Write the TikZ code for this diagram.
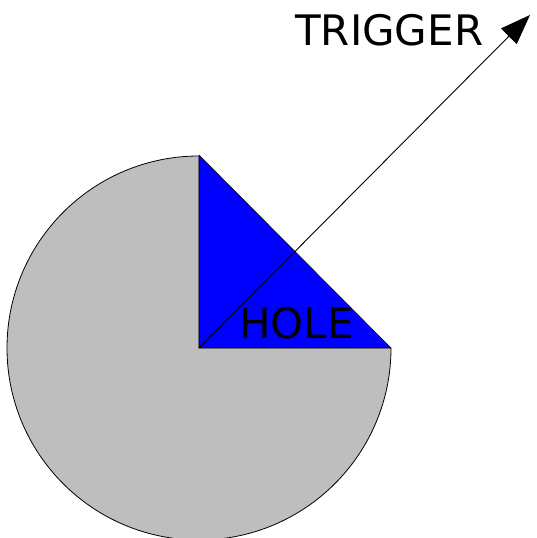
\documentclass[tikz,border=0pt]{standalone}
\usepackage{fontspec}
\setmainfont{DejaVu Sans}
\usetikzlibrary{arrows.meta}
\begin{document}
\begin{tikzpicture}[x=1pt,y=1pt,
  lbl/.style={inner sep=0pt,anchor=base west,font=\fontsize{42}{46}\selectfont},
  edge/.style={line width=0.9pt,-{Triangle[length=30pt,width=22pt]}}]
\useasboundingbox (0,0) rectangle (536,538);
\coordinate (c) at (199,190);
\coordinate (tip) at (530,523);
\fill[fill={rgb,255:red,190;green,190;blue,190},draw=black,line width=0.8pt]
  (c) -- (199,382) arc[start angle=90,end angle=360,radius=192] -- cycle;
\fill[blue,draw=black,line width=0.5pt] (c) -- (199,383) -- (391,190) -- cycle;
\node[lbl] (hole) at (239,199) {HOLE};
\node[lbl] (trig) at (295,492) {TRIGGER};
\draw[edge] (c) -- (tip);
\end{tikzpicture}
\end{document}
